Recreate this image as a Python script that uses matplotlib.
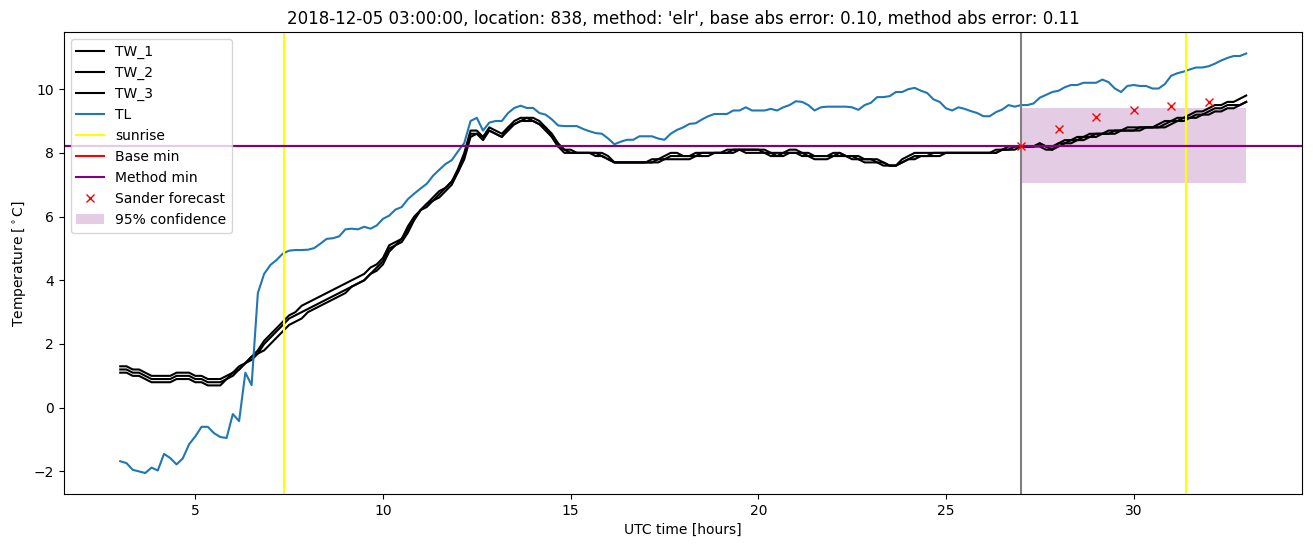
import numpy as np
import matplotlib
matplotlib.use("Agg")
import matplotlib.pyplot as plt

# 10-minute samples from 03:00 to 33:00 UTC
hours = 3 + np.arange(181) / 6.0

TL = [-1.68, -1.74, -1.95, -2.0, -2.05, -1.88,
      -1.97, -1.45, -1.58, -1.78, -1.59, -1.15,
      -0.9, -0.6, -0.6, -0.8, -0.92, -0.95,
      -0.2, -0.42, 1.1, 0.71, 3.6, 4.2,
      4.48, 4.64, 4.84, 4.93, 4.95, 4.95,
      4.96, 5.01, 5.15, 5.3, 5.32, 5.38,
      5.6, 5.62, 5.6, 5.68, 5.62, 5.72,
      5.93, 6.03, 6.22, 6.3, 6.55, 6.72,
      6.88, 7.03, 7.28, 7.47, 7.65, 7.77,
      8.05, 8.31, 9.0, 9.1, 8.7, 8.95,
      9.0, 9.0, 9.25, 9.41, 9.48, 9.41,
      9.41, 9.25, 9.2, 9.05, 8.86, 8.84,
      8.84, 8.84, 8.75, 8.68, 8.62, 8.6,
      8.45, 8.27, 8.35, 8.41, 8.41, 8.52,
      8.52, 8.52, 8.45, 8.41, 8.6, 8.72,
      8.8, 8.91, 8.93, 9.05, 9.15, 9.22,
      9.22, 9.22, 9.33, 9.33, 9.43, 9.33,
      9.33, 9.33, 9.38, 9.33, 9.43, 9.5,
      9.62, 9.6, 9.5, 9.33, 9.43, 9.45,
      9.45, 9.45, 9.45, 9.43, 9.35, 9.5,
      9.57, 9.75, 9.75, 9.78, 9.91, 9.91,
      10.0, 10.04, 9.95, 9.88, 9.68, 9.6,
      9.4, 9.33, 9.43, 9.38, 9.31, 9.25,
      9.15, 9.15, 9.28, 9.36, 9.5, 9.45,
      9.5, 9.5, 9.55, 9.73, 9.82, 9.91,
      9.95, 10.06, 10.13, 10.13, 10.2, 10.2,
      10.2, 10.3, 10.22, 10.02, 9.91, 10.1,
      10.13, 10.1, 10.1, 10.02, 10.02, 10.16,
      10.42, 10.5, 10.55, 10.62, 10.68, 10.68,
      10.72, 10.8, 10.9, 10.98, 11.04, 11.04,
      11.12]

TW_1 = [1.3, 1.3, 1.2, 1.2, 1.1, 1.0,
        1.0, 1.0, 1.0, 1.1, 1.1, 1.1,
        1.0, 1.0, 0.9, 0.9, 0.9, 1.0,
        1.1, 1.3, 1.4, 1.6, 1.8, 2.1,
        2.3, 2.5, 2.7, 2.9, 3.0, 3.2,
        3.3, 3.4, 3.5, 3.6, 3.7, 3.8,
        3.9, 4.0, 4.1, 4.2, 4.4, 4.5,
        4.7, 5.1, 5.2, 5.3, 5.7, 6.0,
        6.2, 6.4, 6.6, 6.8, 6.9, 7.1,
        7.5, 8.0, 8.7, 8.7, 8.5, 8.8,
        8.7, 8.6, 8.8, 9.0, 9.1, 9.1,
        9.1, 9.0, 8.8, 8.6, 8.3, 8.1,
        8.1, 8.0, 8.0, 8.0, 8.0, 8.0,
        7.9, 7.7, 7.7, 7.7, 7.7, 7.7,
        7.7, 7.8, 7.8, 7.9, 8.0, 8.0,
        7.9, 7.9, 8.0, 8.0, 8.0, 8.0,
        8.0, 8.1, 8.1, 8.1, 8.1, 8.1,
        8.1, 8.1, 8.0, 8.0, 8.0, 8.1,
        8.1, 8.0, 8.0, 7.9, 7.9, 7.9,
        8.0, 8.0, 7.9, 7.9, 7.9, 7.8,
        7.8, 7.8, 7.7, 7.6, 7.6, 7.8,
        7.9, 8.0, 8.0, 8.0, 8.0, 8.0,
        8.0, 8.0, 8.0, 8.0, 8.0, 8.0,
        8.0, 8.0, 8.1, 8.1, 8.2, 8.2,
        8.2, 8.2, 8.2, 8.3, 8.2, 8.1,
        8.3, 8.4, 8.4, 8.5, 8.5, 8.6,
        8.6, 8.6, 8.7, 8.7, 8.7, 8.8,
        8.8, 8.8, 8.8, 8.8, 8.9, 9.0,
        9.0, 9.1, 9.1, 9.2, 9.3, 9.3,
        9.4, 9.5, 9.5, 9.6, 9.6, 9.7,
        9.8]

TW_2 = [1.2, 1.2, 1.1, 1.1, 1.0, 0.9,
        0.9, 0.9, 0.9, 1.0, 1.0, 1.0,
        0.9, 0.9, 0.8, 0.8, 0.8, 0.9,
        1.1, 1.2, 1.4, 1.6, 1.7, 2.0,
        2.2, 2.4, 2.6, 2.8, 2.9, 3.0,
        3.1, 3.2, 3.3, 3.4, 3.5, 3.6,
        3.7, 3.8, 3.9, 4.0, 4.2, 4.4,
        4.6, 5.0, 5.1, 5.3, 5.6, 5.9,
        6.2, 6.4, 6.5, 6.7, 6.9, 7.1,
        7.4, 7.9, 8.6, 8.6, 8.5, 8.7,
        8.6, 8.5, 8.8, 8.9, 9.0, 9.1,
        9.0, 8.9, 8.8, 8.5, 8.2, 8.1,
        8.0, 8.0, 8.0, 8.0, 8.0, 7.9,
        7.8, 7.7, 7.7, 7.7, 7.7, 7.7,
        7.7, 7.7, 7.8, 7.8, 7.9, 7.9,
        7.9, 7.9, 7.9, 8.0, 8.0, 8.0,
        8.0, 8.0, 8.1, 8.1, 8.1, 8.1,
        8.1, 8.0, 8.0, 7.9, 8.0, 8.0,
        8.0, 8.0, 7.9, 7.9, 7.9, 7.9,
        7.9, 8.0, 7.9, 7.9, 7.8, 7.8,
        7.8, 7.7, 7.7, 7.6, 7.6, 7.7,
        7.8, 7.9, 7.9, 7.9, 8.0, 8.0,
        8.0, 8.0, 8.0, 8.0, 8.0, 8.0,
        8.0, 8.0, 8.0, 8.1, 8.1, 8.2,
        8.2, 8.2, 8.2, 8.3, 8.2, 8.2,
        8.3, 8.3, 8.4, 8.4, 8.5, 8.5,
        8.6, 8.6, 8.6, 8.7, 8.7, 8.7,
        8.7, 8.8, 8.8, 8.8, 8.8, 8.9,
        9.0, 9.0, 9.1, 9.1, 9.2, 9.2,
        9.3, 9.4, 9.4, 9.5, 9.5, 9.5,
        9.6]

TW_3 = [1.1, 1.1, 1.0, 1.0, 0.9, 0.8,
        0.8, 0.8, 0.8, 0.9, 0.9, 0.9,
        0.8, 0.8, 0.7, 0.7, 0.7, 0.9,
        1.0, 1.2, 1.4, 1.5, 1.7, 1.8,
        2.0, 2.2, 2.4, 2.6, 2.7, 2.8,
        3.0, 3.1, 3.2, 3.3, 3.4, 3.5,
        3.6, 3.8, 3.9, 4.0, 4.2, 4.3,
        4.5, 4.9, 5.1, 5.2, 5.5, 5.9,
        6.2, 6.3, 6.5, 6.6, 6.8, 7.0,
        7.4, 7.8, 8.5, 8.6, 8.4, 8.7,
        8.6, 8.5, 8.7, 8.9, 9.0, 9.0,
        9.0, 8.9, 8.7, 8.5, 8.2, 8.0,
        8.0, 8.0, 8.0, 8.0, 7.9, 7.9,
        7.8, 7.7, 7.7, 7.7, 7.7, 7.7,
        7.7, 7.7, 7.7, 7.8, 7.8, 7.8,
        7.8, 7.8, 7.9, 7.9, 7.9, 8.0,
        8.0, 8.0, 8.0, 8.1, 8.0, 8.0,
        8.0, 8.0, 7.9, 7.9, 7.9, 8.0,
        8.0, 7.9, 7.9, 7.8, 7.8, 7.8,
        7.9, 7.9, 7.9, 7.8, 7.8, 7.7,
        7.7, 7.7, 7.6, 7.6, 7.6, 7.7,
        7.8, 7.8, 7.9, 7.9, 7.9, 7.9,
        8.0, 8.0, 8.0, 8.0, 8.0, 8.0,
        8.0, 8.0, 8.0, 8.1, 8.1, 8.1,
        8.2, 8.2, 8.2, 8.2, 8.1, 8.1,
        8.2, 8.3, 8.3, 8.4, 8.4, 8.5,
        8.5, 8.6, 8.6, 8.6, 8.7, 8.7,
        8.7, 8.7, 8.8, 8.8, 8.8, 8.8,
        8.9, 9.0, 9.0, 9.1, 9.1, 9.2,
        9.2, 9.3, 9.3, 9.4, 9.4, 9.5,
        9.6]

sunrise_hours = [7.35, 31.40]
forecast_time = 27.0
base_min = 8.2
method_min = 8.21
sander_hours = [27, 28, 29, 30, 31, 32]
sander_values = [8.21, 8.76, 9.14, 9.33, 9.46, 9.59]
conf_hours = [27.0, 33.0]
conf_low = 7.04
conf_high = 9.40

title = ("2018-12-05 03:00:00, location: 838, method: 'elr', "
         "base abs error: 0.10, method abs error: 0.11")

fig = plt.figure(figsize=(13.13, 5.47), dpi=100)
ax = fig.add_axes([0.0487, 0.0969, 0.9433, 0.8437])

ax.plot(hours, TW_1, color="black", label="TW_1")
ax.plot(hours, TW_2, color="black", label="TW_2")
ax.plot(hours, TW_3, color="black", label="TW_3")
ax.plot(hours, TL, color="tab:blue", label="TL")
for i, s in enumerate(sunrise_hours):
    ax.axvline(s, color="yellow", label="sunrise" if i == 0 else None)
ax.axvline(forecast_time, color="gray")
ax.axhline(base_min, color="red", label="Base min")
ax.axhline(method_min, color="purple", label="Method min")
ax.plot(sander_hours, sander_values, "rx", label="Sander forecast")
ax.fill_between(conf_hours, [conf_low] * 2, [conf_high] * 2,
                color="purple", alpha=0.2, linewidth=0, label="95% confidence")

ax.set_title(title)
ax.set_xlabel("UTC time [hours]")
ax.set_ylabel("Temperature [$^\\circ$C]")
ax.legend(loc="upper left")

fig.savefig("out.png", dpi=100)
